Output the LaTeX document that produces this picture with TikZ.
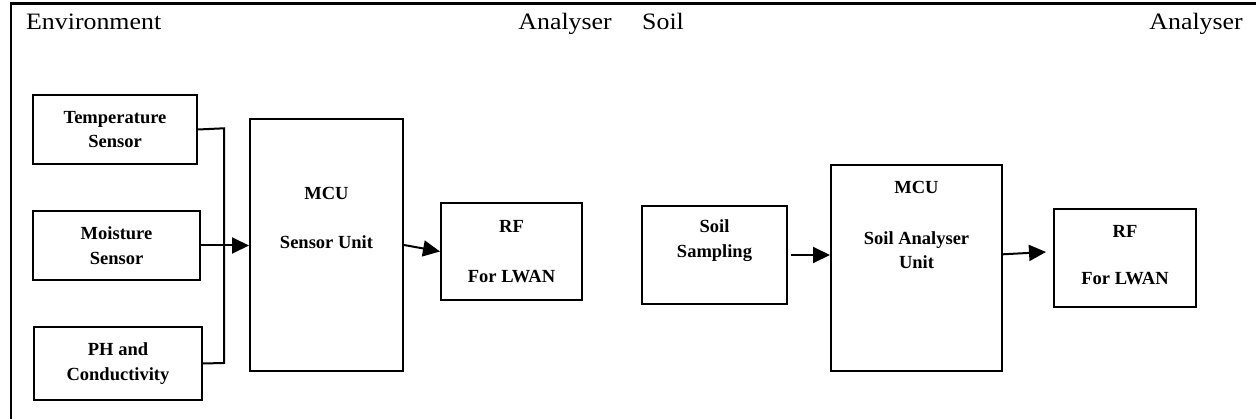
\documentclass[tikz,border=0pt]{standalone}
\usepackage{fontspec}
\usepackage{graphicx}
\setmainfont{Liberation Serif}
\usetikzlibrary{arrows.meta}
\begin{document}
\begin{tikzpicture}[x=1pt,y=-1pt,
  blk/.style={draw, line width=2pt, inner sep=0pt, align=center,
    font=\bfseries\fontsize{18.5}{24.4}\selectfont},
  txt/.style={inner sep=0pt, align=center,
    font=\bfseries\fontsize{18.5}{24.4}\selectfont},
  head/.style={inner sep=0pt, font=\fontsize{23.5}{28}\selectfont},
  wire/.style={line width=2pt},
  arr/.style={line width=2pt, -{Triangle[length=17pt,width=16pt]}}]
\useasboundingbox (0,0) rectangle (1256,419);

% frame
\draw[line width=2.5pt, line join=miter] (11,419) -- (11,3.3) -- (1258,3.3);

% headers
\node[head, anchor=base west] (henv) at (26,30) {\scalebox{1.1}[1]{Environment}};
\node[head, anchor=base east] (han1) at (612,30) {\scalebox{1.1}[1]{Analyser}};
\node[head, anchor=base west] (hsoil) at (642,30) {\scalebox{1.1}[1]{Soil}};
\node[head, anchor=base east] (han2) at (1243,30) {\scalebox{1.1}[1]{Analyser}};

% left group
\node[blk, minimum width=164pt, minimum height=69pt] (temp) at (115,129.5) {Temperature\\Sensor};
\node[blk, minimum width=167pt, minimum height=69pt] (moist) at (116.5,245.5) {Moisture\\Sensor};
\node[blk, minimum width=168pt, minimum height=73pt] (ph) at (118,363.5) {PH and\\Conductivity};
\node[blk, minimum width=153pt, minimum height=252pt] (mcu1) at (326.5,245) {};
\node[txt] (mcu1t) at (326.5,218) {MCU\\[25.5pt]Sensor Unit};
\node[blk, minimum width=141pt, minimum height=97pt] (rf1) at (511.5,251.5) {RF\\[26pt]For LWAN};

% right group
\node[blk, minimum width=145pt, minimum height=98pt] (soil) at (714.5,255) {};
\node[txt] (soilt) at (714.5,240.5) {Soil\\Sampling};
\node[blk, minimum width=171pt, minimum height=206pt] (mcu2) at (916.5,268) {};
\node[txt] (mcu2t) at (916.5,225) {MCU\\[27pt]Soil Analyser\\Unit};
\node[blk, minimum width=142pt, minimum height=98pt] (rf2) at (1125,258) {};
\node[txt] (rf2t) at (1125,255.3) {RF\\[23pt]For LWAN};

% connectors
\coordinate (bt) at (224,128.3);
\coordinate (bb) at (224,363);
\draw[wire, line join=miter] (temp.east) -- (bt) -- (bb) -- (ph.east);
\draw[arr] (moist.east) -- (moist.east -| mcu1.west);
\draw[arr] (mcu1.east) -- (rf1.west);
\draw[arr, shorten <=3pt] (soil.east) -- (soil.east -| mcu2.west);
\coordinate (q1) at (1002,254.3);
\coordinate (q2) at (1046,252);
\draw[arr] (mcu2.east |- q1) -- (q2);
\end{tikzpicture}
\end{document}
